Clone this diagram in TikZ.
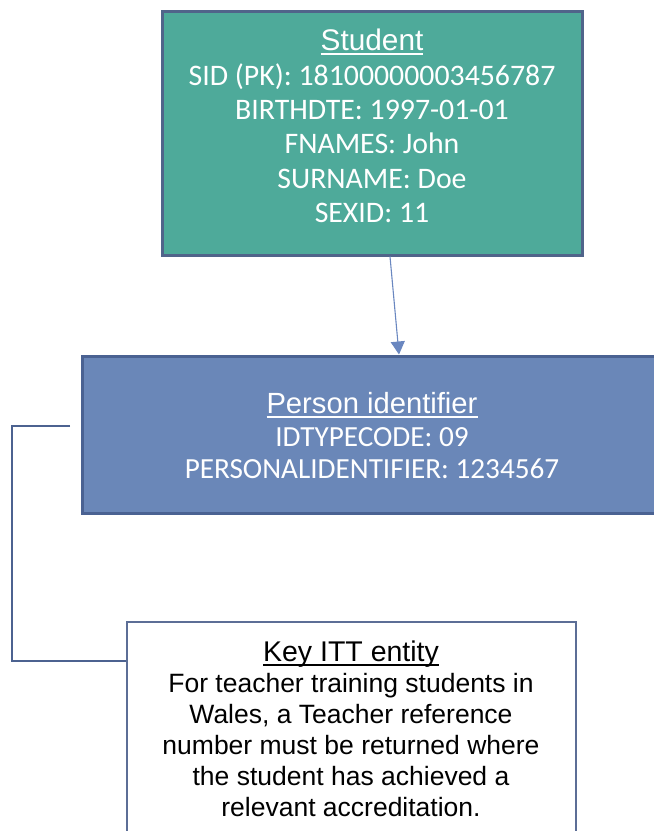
\documentclass[tikz,border=0pt]{standalone}
\usepackage{fontspec}
\setmainfont{Carlito}
\newfontfamily\arialfont{Liberation Sans}
\usetikzlibrary{arrows.meta}
\definecolor{tealfill}{RGB}{78,170,154}
\definecolor{tealborder}{RGB}{80,100,138}
\definecolor{pidfill}{RGB}{106,135,184}
\definecolor{pidborder}{RGB}{74,98,146}
\definecolor{keyborder}{RGB}{92,110,150}
\definecolor{connline}{RGB}{76,98,144}
\definecolor{arrowcol}{RGB}{106,135,192}
\newcommand\myul[1]{\setbox0\hbox{#1}\rlap{\rule[-4pt]{\wd0}{1.8pt}}\box0}
\tikzset{
  entitybox/.style={draw, rectangle, inner sep=0pt},
  studentbox/.style={entitybox, fill=tealfill, draw=tealborder, line width=3pt,
    minimum width=420pt, minimum height=244pt},
  pidbox/.style={entitybox, fill=pidfill, draw=pidborder, line width=3pt,
    minimum width=576pt, minimum height=157pt},
  keybox/.style={entitybox, fill=white, draw=keyborder, line width=2pt,
    minimum width=449pt, minimum height=213pt},
  boxtext/.style={align=center, inner sep=0pt},
  conn/.style={draw=connline, line width=2pt},
  arrowline/.style={draw=arrowcol, line width=1.1pt, -{Triangle[width=14pt,length=13pt]}}
}
\begin{document}
\begin{tikzpicture}[x=1pt,y=-1pt]
\useasboundingbox (0,0) rectangle (654,831);
\clip (0,0) rectangle (654,831);
\node[studentbox] (student) at (372,133) {};
\node[boxtext, text=white, font={\fontsize{29.8}{34.4}\selectfont}] (studenttext) at (372,126)
  {{\arialfont\myul{Student}}\\SID (PK): 18100000003456787\\BIRTHDTE: 1997-01-01\\FNAMES: John\\SURNAME: Doe\\SEXID: 11};
\node[pidbox] (pid) at (370,434.5) {};
\node[boxtext, text=white, font={\fontsize{29.2}{32.5}\selectfont}] (pidtext) at (372,436)
  {{\arialfont\myul{Person identifier}}\\IDTYPECODE: 09\\PERSONALIDENTIFIER: 1234567};
\node[keybox] (key) at (351.5,728.5) {};
\node[boxtext, text=black, font={\arialfont\fontsize{26.5}{31}\selectfont}] (keytext) at (351,729)
  {{\fontsize{28.5}{31}\selectfont\myul{Key ITT entity}}\\For teacher training students in\\Wales, a Teacher reference\\number must be returned where\\the student has achieved a\\relevant accreditation.};
\draw[arrowline] ([xshift=18pt]student.south) -- ([xshift=29pt]pid.north);
\coordinate (connstart) at (70,426);
\coordinate (connend) at ([yshift=-40pt]key.north west);
\draw[conn] (connstart) -- (12,426) |- (connend);
\end{tikzpicture}
\end{document}
